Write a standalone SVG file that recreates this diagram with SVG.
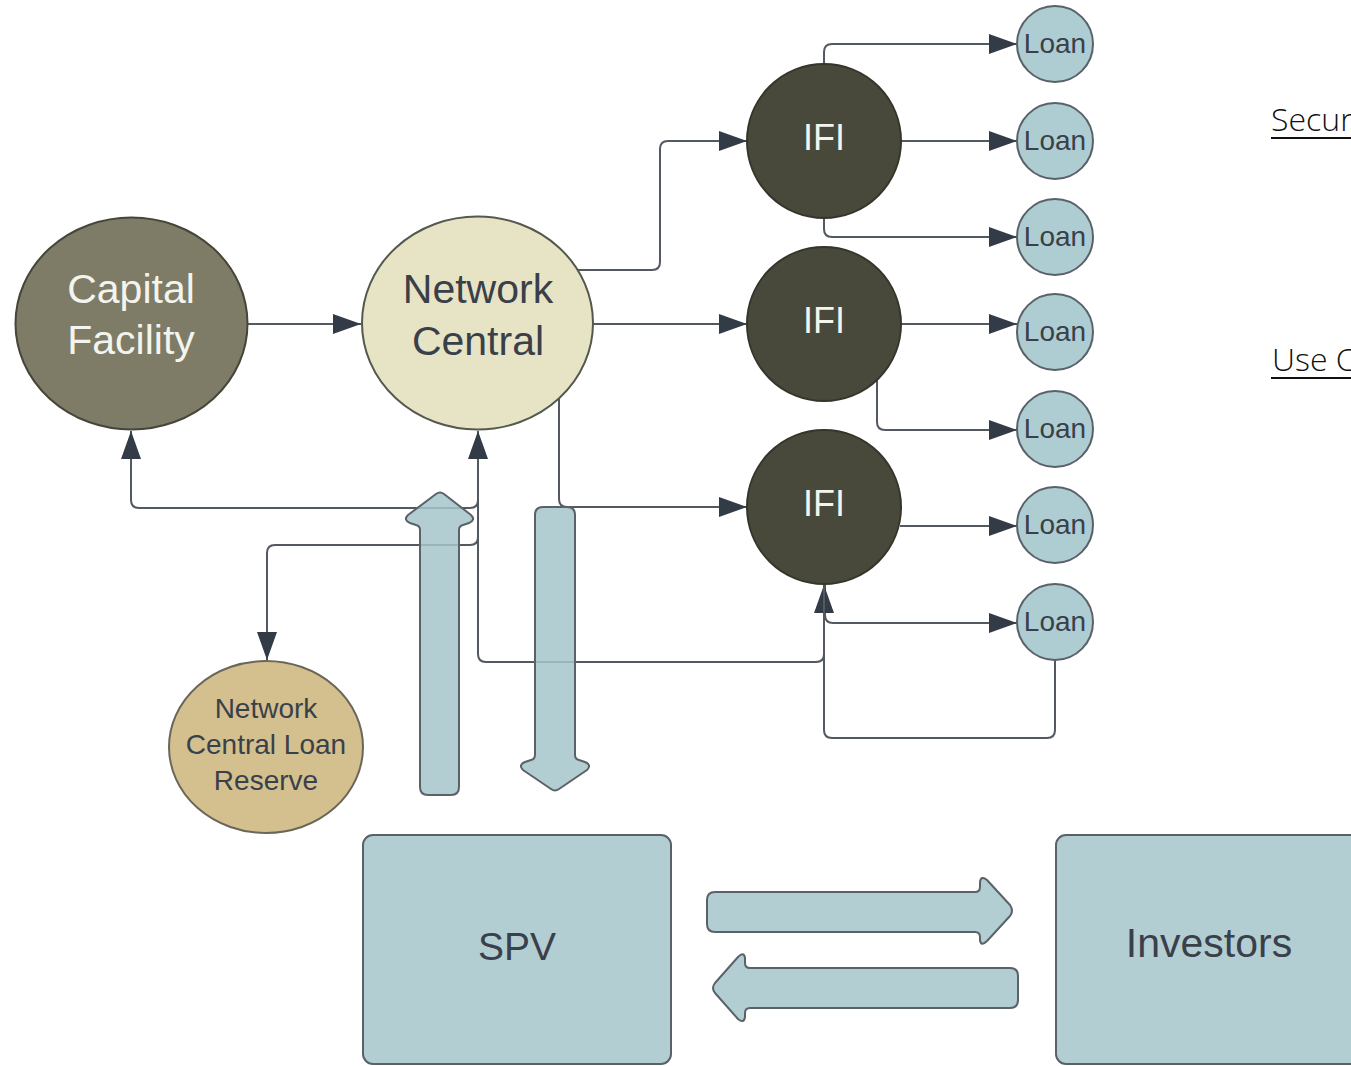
<svg xmlns="http://www.w3.org/2000/svg" width="1351" height="1066" viewBox="0 0 1351 1066">
<style>
.lbl{font-family:"Liberation Sans",Arial,sans-serif;text-anchor:middle}
.dark{fill:#3a4049}
.light{fill:#f4f4ee}
.conn{fill:none;stroke:#535960;stroke-width:2}
.loan{fill:#aecdd2;stroke:#5a6168;stroke-width:2}
.ifi{fill:#48483b;stroke:#35352b;stroke-width:2}
.block{fill:#b3ced3;stroke:#5a6268;stroke-width:2;stroke-linejoin:round}
.flow{fill:#a6c5cb;fill-opacity:0.85;stroke:#5a6268;stroke-width:2;stroke-linejoin:round}
.side{font-family:"Open Sans","Liberation Sans",sans-serif;font-size:32px;font-weight:300;fill:#111}
</style>
<defs>
<marker id="ah" markerUnits="userSpaceOnUse" markerWidth="30" markerHeight="22" refX="28" refY="10" orient="auto">
<path d="M0,0 L28,10 L0,20 Z" fill="#333b47"/>
</marker>
</defs>
<rect width="1351" height="1066" fill="#ffffff"/>

<g id="connectors">
<path class="conn" d="M248 324 H361" marker-end="url(#ah)"/>
<path class="conn" d="M578 270 H652 Q660 270 660 262 V149 Q660 141 668 141 H747" marker-end="url(#ah)"/>
<path class="conn" d="M593 324 H747" marker-end="url(#ah)"/>
<path class="conn" d="M559 398 V499 Q559 507 567 507 H747" marker-end="url(#ah)"/>
<path class="conn" d="M824 64 V52 Q824 44 832 44 H1017" marker-end="url(#ah)"/>
<path class="conn" d="M901 141 H1017" marker-end="url(#ah)"/>
<path class="conn" d="M824 218 V229 Q824 237 832 237 H1017" marker-end="url(#ah)"/>
<path class="conn" d="M901 324 H1017" marker-end="url(#ah)"/>
<path class="conn" d="M877 380 V422 Q877 430 885 430 H1017" marker-end="url(#ah)"/>
<path class="conn" d="M900 526 H1017" marker-end="url(#ah)"/>
<path class="conn" d="M825 584 V615 Q825 623 833 623 H1017" marker-end="url(#ah)"/>
<path class="conn" d="M1055 660 V730 Q1055 738 1047 738 H832 Q824 738 824 730 V585" marker-end="url(#ah)"/>
<path class="conn" d="M824 585 V654 Q824 662 816 662 H486 Q478 662 478 654 V431" marker-end="url(#ah)"/>
<path class="conn" d="M478 500 Q478 508 470 508 H139 Q131 508 131 500 V431" marker-end="url(#ah)"/>
<path class="conn" d="M478 537 Q478 545 470 545 H275 Q267 545 267 553 V660" marker-end="url(#ah)"/>
</g>

<g id="flows">
<path id="flow-up" class="flow" d="M420 787 V530 Q420 526 416 525 L410 523 Q403 520 408 515 L436 494 Q440 491 444 494 L471 515 Q476 520 469 523 L463 525 Q459 526 459 530 V787 Q459 795 451 795 H428 Q420 795 420 787 Z"/>
<path id="flow-down" class="flow" d="M535 515 Q535 507 543 507 H567 Q575 507 575 515 V755 Q575 759 579 760 L585 762 Q592 765 587 770 L559 789 Q555 792 551 789 L523 770 Q518 765 525 762 L531 760 Q535 759 535 755 Z"/>
<path id="flow-right" class="block" d="M715 892 H975 Q980 892 980 887 V882 Q981 875 987 880 L1010 905 Q1014 911 1010 916 L987 941 Q981 947 980 940 V937 Q980 932 975 932 H715 Q707 932 707 924 V900 Q707 892 715 892 Z"/>
<path id="flow-left" class="block" d="M1010 968 Q1018 968 1018 976 V1000 Q1018 1008 1010 1008 H750 Q745 1008 745 1013 V1017 Q744 1024 738 1019 L715 993 Q711 988 715 983 L738 957 Q744 951 745 958 V963 Q745 968 750 968 Z"/>
</g>

<g id="capital-facility">
<ellipse cx="131.5" cy="323.5" rx="116" ry="106" fill="#7e7c67" stroke="#45453a" stroke-width="2"/>
<text class="lbl light" x="131" y="303" font-size="41">Capital</text>
<text class="lbl light" x="131" y="354" font-size="41">Facility</text>
</g>

<g id="network-central">
<ellipse cx="477.5" cy="323" rx="115.5" ry="106.5" fill="#e7e4c5" stroke="#55584f" stroke-width="2"/>
<text class="lbl dark" x="478" y="303" font-size="41">Network</text>
<text class="lbl dark" x="478" y="355" font-size="41">Central</text>
</g>

<g id="ifi-1">
<circle class="ifi" cx="824" cy="141" r="77"/>
<text class="lbl light" x="824" y="150" font-size="36">IFI</text>
</g>
<g id="ifi-2">
<circle class="ifi" cx="824" cy="324" r="77"/>
<text class="lbl light" x="824" y="333" font-size="36">IFI</text>
</g>
<g id="ifi-3">
<circle class="ifi" cx="824" cy="507" r="77"/>
<text class="lbl light" x="824" y="516" font-size="36">IFI</text>
</g>

<g id="loan-1"><circle class="loan" cx="1055" cy="44" r="38"/><text class="lbl dark" x="1055" y="53" font-size="28">Loan</text></g>
<g id="loan-2"><circle class="loan" cx="1055" cy="141" r="38"/><text class="lbl dark" x="1055" y="150" font-size="28">Loan</text></g>
<g id="loan-3"><circle class="loan" cx="1055" cy="237" r="38"/><text class="lbl dark" x="1055" y="246" font-size="28">Loan</text></g>
<g id="loan-4"><circle class="loan" cx="1055" cy="332" r="38"/><text class="lbl dark" x="1055" y="341" font-size="28">Loan</text></g>
<g id="loan-5"><circle class="loan" cx="1055" cy="429" r="38"/><text class="lbl dark" x="1055" y="438" font-size="28">Loan</text></g>
<g id="loan-6"><circle class="loan" cx="1055" cy="525" r="38"/><text class="lbl dark" x="1055" y="534" font-size="28">Loan</text></g>
<g id="loan-7"><circle class="loan" cx="1055" cy="622" r="38"/><text class="lbl dark" x="1055" y="631" font-size="28">Loan</text></g>

<g id="loan-reserve">
<ellipse cx="266" cy="747" rx="97" ry="86" fill="#d3c08e" stroke="#6a6658" stroke-width="2"/>
<text class="lbl dark" x="266" y="718" font-size="28">Network</text>
<text class="lbl dark" x="266" y="754" font-size="28">Central Loan</text>
<text class="lbl dark" x="266" y="790" font-size="28">Reserve</text>
</g>

<g id="spv">
<rect class="block" x="363" y="835" width="308" height="229" rx="10"/>
<text class="lbl dark" x="517" y="960" font-size="39">SPV</text>
</g>

<g id="investors">
<rect class="block" x="1056" y="835" width="307" height="229" rx="10"/>
<text class="lbl dark" x="1209" y="957" font-size="41">Investors</text>
</g>

<g id="side-notes">
<text class="side" x="1271" y="131">Secur</text>
<line x1="1271" y1="138" x2="1351" y2="138" stroke="#111" stroke-width="2"/>
<text class="side" x="1272" y="371">Use C</text>
<line x1="1271" y1="378" x2="1351" y2="378" stroke="#111" stroke-width="2"/>
</g>
</svg>
